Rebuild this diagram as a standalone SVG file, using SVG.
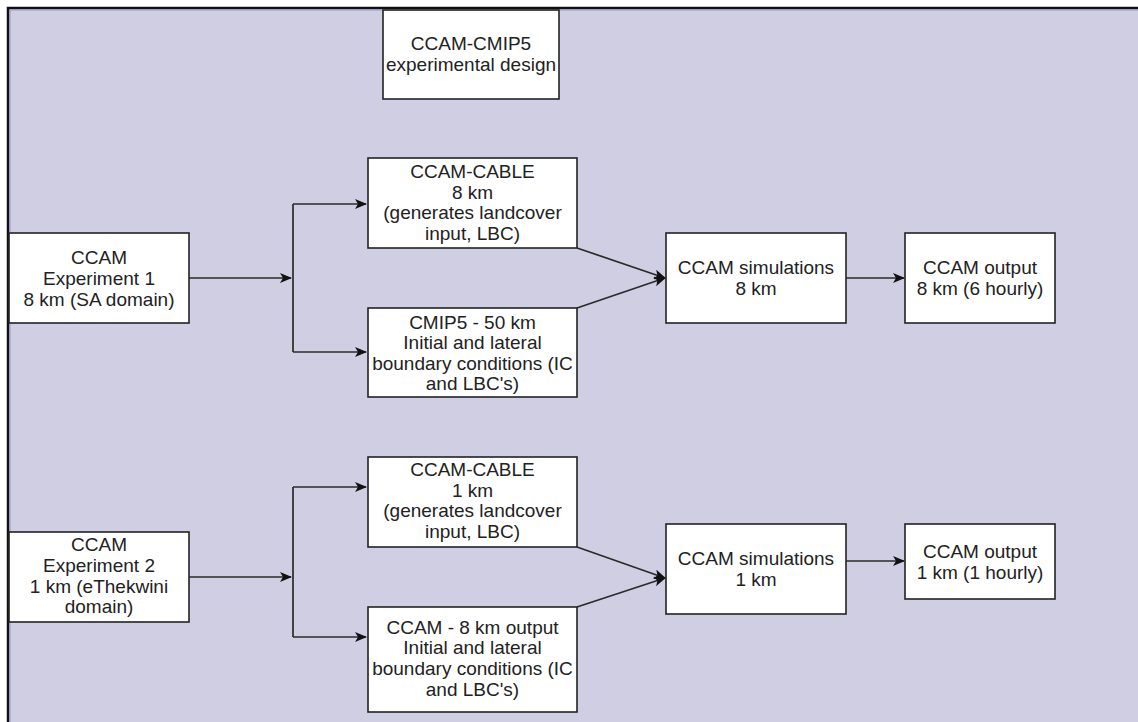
<svg xmlns="http://www.w3.org/2000/svg" width="1138" height="722" viewBox="0 0 1138 722">
<defs>
<style>
.box{fill:#ffffff;stroke:#222222;stroke-width:1.6}
.t{font-family:"Liberation Sans",Arial,sans-serif;font-size:19px;fill:#222222;text-anchor:middle}
.c{fill:none;stroke:#2a2a2a;stroke-width:1.7}
</style>
<marker id="ah" viewBox="0 0 12 10" refX="11" refY="5" markerWidth="12" markerHeight="10" markerUnits="userSpaceOnUse" orient="auto">
<path d="M0,0 L12,5 L0,10 L3,5 Z" fill="#111111"/>
</marker>
</defs>
<rect x="0" y="0" width="1138" height="722" fill="#ffffff"/>
<rect x="8" y="8" width="1140" height="724" fill="#d0cee3" stroke="#111111" stroke-width="2.5"/>
<path d="M10,722 V10 H1138" fill="none" stroke="#9a94c8" stroke-width="1"/>

<g id="connectors">
<path class="c" d="M189,278 H291" marker-end="url(#ah)"/>
<path class="c" d="M293,204 V352"/>
<path class="c" d="M293,204 H366" marker-end="url(#ah)"/>
<path class="c" d="M293,352 H366" marker-end="url(#ah)"/>
<path class="c" d="M577,248 L665,278" marker-end="url(#ah)"/>
<path class="c" d="M577,308 L665,278" marker-end="url(#ah)"/>
<path class="c" d="M846,278 H904" marker-end="url(#ah)"/>
<path class="c" d="M189,577 H291" marker-end="url(#ah)"/>
<path class="c" d="M293,487 V637"/>
<path class="c" d="M293,487 H366" marker-end="url(#ah)"/>
<path class="c" d="M293,637 H366" marker-end="url(#ah)"/>
<path class="c" d="M577,547 L665,578" marker-end="url(#ah)"/>
<path class="c" d="M577,607 L665,578" marker-end="url(#ah)"/>
<path class="c" d="M846,561 H904" marker-end="url(#ah)"/>
</g>

<g id="title">
<rect class="box" x="383" y="10" width="176" height="89"/>
<text class="t" x="471" y="50">CCAM-CMIP5</text>
<text class="t" x="471" y="71">experimental design</text>
</g>

<g id="exp1">
<rect class="box" x="9" y="233" width="180" height="90"/>
<text class="t" x="99" y="264">CCAM</text>
<text class="t" x="99" y="285">Experiment 1</text>
<text class="t" x="99" y="306">8 km (SA domain)</text>
</g>

<g id="cable8">
<rect class="box" x="368" y="158" width="209" height="90"/>
<text class="t" x="472.5" y="178">CCAM-CABLE</text>
<text class="t" x="472.5" y="198.5">8 km</text>
<text class="t" x="472.5" y="219">(generates landcover</text>
<text class="t" x="472.5" y="239.5">input, LBC)</text>
</g>

<g id="cmip5">
<rect class="box" x="368" y="308" width="209" height="89"/>
<text class="t" x="472.5" y="329">CMIP5 - 50 km</text>
<text class="t" x="472.5" y="349">Initial and lateral</text>
<text class="t" x="472.5" y="369.5">boundary conditions (IC</text>
<text class="t" x="472.5" y="390">and LBC's)</text>
</g>

<g id="sim8">
<rect class="box" x="666" y="233" width="180" height="90"/>
<text class="t" x="756" y="273.5">CCAM simulations</text>
<text class="t" x="756" y="295">8 km</text>
</g>

<g id="out8">
<rect class="box" x="905" y="233" width="150" height="90"/>
<text class="t" x="980" y="273.5">CCAM output</text>
<text class="t" x="980" y="295">8 km (6 hourly)</text>
</g>

<g id="exp2">
<rect class="box" x="9" y="532" width="180" height="90"/>
<text class="t" x="99" y="551">CCAM</text>
<text class="t" x="99" y="572">Experiment 2</text>
<text class="t" x="99" y="592.5">1 km (eThekwini</text>
<text class="t" x="99" y="613">domain)</text>
</g>

<g id="cable1">
<rect class="box" x="368" y="457" width="209" height="90"/>
<text class="t" x="472.5" y="476">CCAM-CABLE</text>
<text class="t" x="472.5" y="496.5">1 km</text>
<text class="t" x="472.5" y="517">(generates landcover</text>
<text class="t" x="472.5" y="538">input, LBC)</text>
</g>

<g id="ccam8out">
<rect class="box" x="368" y="607" width="209" height="105"/>
<text class="t" x="472.5" y="633.5">CCAM - 8 km output</text>
<text class="t" x="472.5" y="654">Initial and lateral</text>
<text class="t" x="472.5" y="675">boundary conditions (IC</text>
<text class="t" x="472.5" y="695.5">and LBC's)</text>
</g>

<g id="sim1">
<rect class="box" x="666" y="524" width="180" height="90"/>
<text class="t" x="756" y="564.5">CCAM simulations</text>
<text class="t" x="756" y="586">1 km</text>
</g>

<g id="out1">
<rect class="box" x="905" y="524" width="150" height="75"/>
<text class="t" x="980" y="557.5">CCAM output</text>
<text class="t" x="980" y="578.5">1 km (1 hourly)</text>
</g>
</svg>
